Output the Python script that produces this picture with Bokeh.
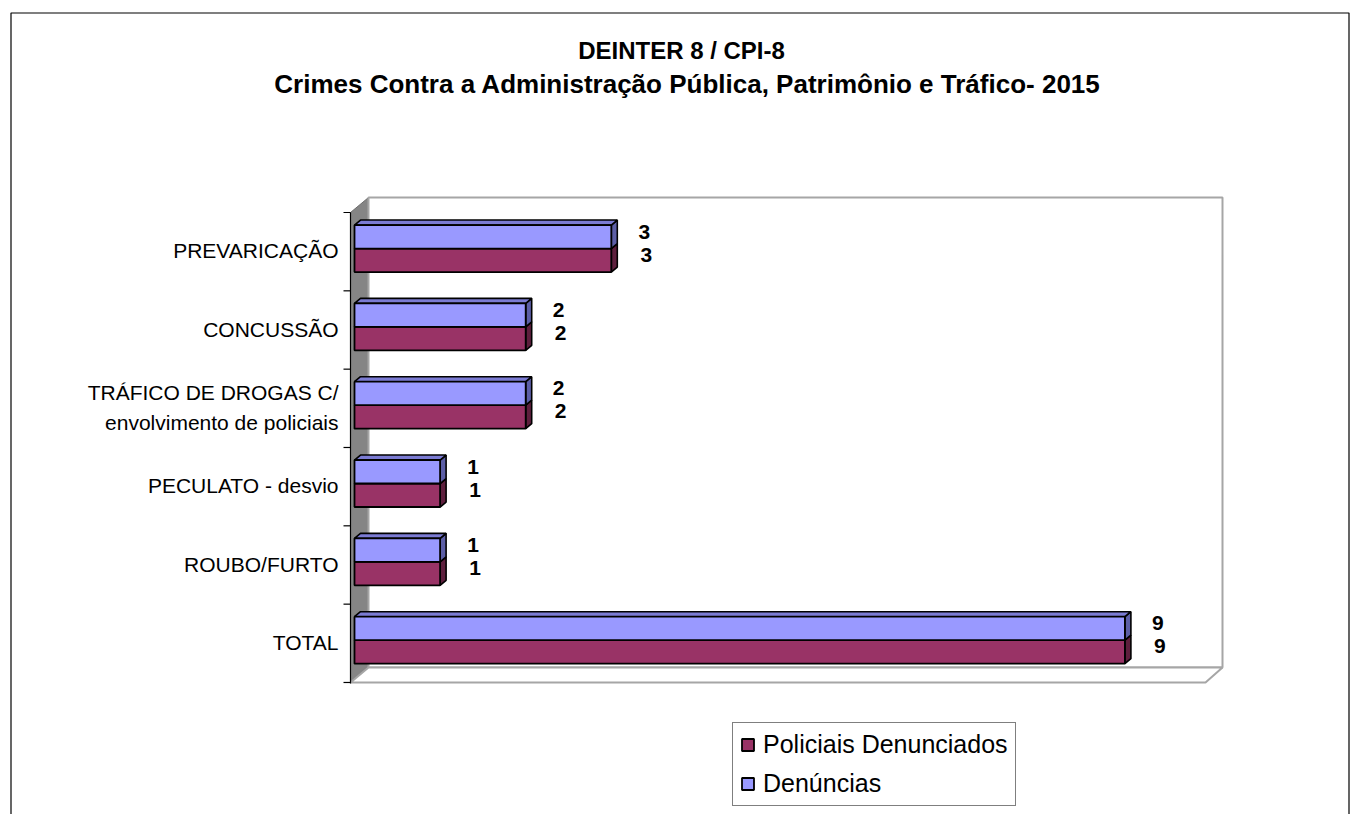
from bokeh.plotting import figure
from bokeh.models import Range1d, Legend, LegendItem, ColumnDataSource
from bokeh.core.properties import value
from bokeh.embed import file_html
from bokeh.resources import INLINE

# ---------------- data ----------------
categories = ["PREVARICAÇÃO", "CONCUSSÃO", "TRÁFICO DE DROGAS C/\nenvolvimento de policiais",
              "PECULATO - desvio", "ROUBO/FURTO", "TOTAL"]
denuncias = [3, 2, 2, 1, 1, 9]
policiais = [3, 2, 2, 1, 1, 9]
series_names = ["Policiais Denunciados", "Denúncias"]
title_lines = ["DEINTER 8 / CPI-8",
               "Crimes Contra a Administração Pública, Patrimônio e Tráfico- 2015"]

# ---------------- layout ----------------
W, H = 1351, 814
OFF = 0
X0, XS = 354.0, 85.6          # page px of value 0, px per unit
Y0, YS = 212.0, 78.33         # page px of top of category band, px per band

def dx(px):
    return (px - X0) / XS

def dy(py):
    return (py - Y0) / YS - 0.5

FONT_NAME = "Liberation Sans"
FONT = value(FONT_NAME)
BLUE, BLUE_TOP, BLUE_SIDE = "#9999FF", "#7b7bd3", "#5c5ea6"
RED, RED_SIDE = "#993366", "#5e1f3d"

p = figure(width=W, height=H, output_backend="svg", toolbar_location=None,
           x_range=Range1d(dx(OFF), dx(OFF + W)), y_range=Range1d(dy(OFF + H), dy(OFF)),
           x_axis_location=None, y_axis_location=None, min_border=0)
p.grid.visible = False
p.outline_line_color = None
p.background_fill_color = "white"
p.border_fill_color = "white"

# outer chart border
p.quad(left=dx(10.5), right=dx(1348.5), top=dy(12.5), bottom=dy(900),
       fill_color=None, line_color="black", line_width=1.2)

# 3D walls
p.patch(x=[dx(350), dx(368), dx(368), dx(350)], y=[dy(212), dy(197), dy(667), dy(682)],
        fill_color="#858585", line_color="#6e6e6e", line_width=1)
p.quad(left=dx(368), right=dx(1222), top=dy(197), bottom=dy(667),
       fill_color="white", line_color="#a6a6a6", line_width=2)
p.patch(x=[dx(350), dx(368), dx(1222), dx(1205)], y=[dy(682), dy(667), dy(667), dy(682)],
        fill_color="white", line_color="#a6a6a6", line_width=2)

# axis line and ticks
p.segment(x0=[dx(350)], y0=[dy(212)], x1=[dx(350)], y1=[dy(683)], line_color="black", line_width=1.2)
n = len(categories)
tick_v = [k - 0.5 for k in range(n + 1)]
p.segment(x0=[dx(343)] * len(tick_v), y0=tick_v, x1=[dx(350)] * len(tick_v), y1=tick_v,
          line_color="black", line_width=1.2)

# bars
BH = 0.3
ddx, ddy = 6 / XS, 5 / YS
mids = [i - 0.04 for i in range(n)]
blue_src = ColumnDataSource(dict(y=[m - BH / 2 for m in mids], right=denuncias))
red_src = ColumnDataSource(dict(y=[m + BH / 2 for m in mids], right=policiais))

# top faces and side faces
top_xs, top_ys, bs_xs, bs_ys, rs_xs, rs_ys = [], [], [], [], [], []
for m, vb, vr in zip(mids, denuncias, policiais):
    t, b = m - BH, m + BH
    top_xs.append([0, vb, vb + ddx, ddx]); top_ys.append([t, t, t - ddy, t - ddy])
    bs_xs.append([vb, vb + ddx, vb + ddx, vb]); bs_ys.append([t, t - ddy, m - ddy, m])
    rs_xs.append([vr, vr + ddx, vr + ddx, vr]); rs_ys.append([m, m - ddy, b - ddy, b])
p.patches(xs=rs_xs, ys=rs_ys, fill_color=RED_SIDE, line_color="black", line_width=1.6)
p.patches(xs=bs_xs, ys=bs_ys, fill_color=BLUE_SIDE, line_color="black", line_width=1.6)
p.patches(xs=top_xs, ys=top_ys, fill_color=BLUE_TOP, line_color="black", line_width=1.6)
r_red = p.hbar(y="y", left=0, right="right", height=BH, source=red_src,
               fill_color=RED, line_color="black", line_width=1.8)
r_blue = p.hbar(y="y", left=0, right="right", height=BH, source=blue_src,
                fill_color=BLUE, line_color="black", line_width=1.8)

# value labels
p.text(x=[v + 33 / XS for v in denuncias], y=[m - 17 / YS for m in mids],
       text=[str(v) for v in denuncias], text_font=FONT, text_font_style="bold",
       text_font_size="21px", text_align="center", text_baseline="middle", text_color="black")
p.text(x=[v + 35 / XS for v in policiais], y=[m + 6 / YS for m in mids],
       text=[str(v) for v in policiais], text_font=FONT, text_font_style="bold",
       text_font_size="21px", text_align="center", text_baseline="middle", text_color="black")

# category labels
lx, ly, lt = [], [], []
for m, c in zip(mids, categories):
    parts = c.split("\n")
    k = len(parts)
    for j, part in enumerate(parts):
        lx.append(dx(338))
        ly.append(m + 0.03 + (j - (k - 1) / 2) * 30 / YS)
        lt.append(part)
p.text(x=lx, y=ly, text=lt, text_font=FONT, text_font_size="21px",
       text_align="right", text_baseline="middle", text_color="black")

# title
p.text(x=[dx(681)], y=[dy(50)], text=title_lines[:1], text_font=FONT,
       text_font_style="bold", text_font_size="24px", text_align="center",
       text_baseline="middle", text_color="black")
p.text(x=[dx(687)], y=[dy(83)], text=title_lines[1:], text_font=FONT,
       text_font_style="bold", text_font_size="26px", text_align="center",
       text_baseline="middle", text_color="black")

# legend
legend = Legend(items=[LegendItem(label=series_names[0], renderers=[r_red]),
                       LegendItem(label=series_names[1], renderers=[r_blue])],
                location=(732, 8), orientation="vertical",
                label_text_font=FONT_NAME, label_text_font_size="25px",
                label_text_color="black",
                glyph_width=15, glyph_height=15, label_standoff=8,
                padding=7, spacing=10, margin=0, label_height=29,
                border_line_color="black", border_line_width=1.2,
                background_fill_color="white", background_fill_alpha=1)
p.add_layout(legend)

open("out.html", "w").write(file_html(p, INLINE))
